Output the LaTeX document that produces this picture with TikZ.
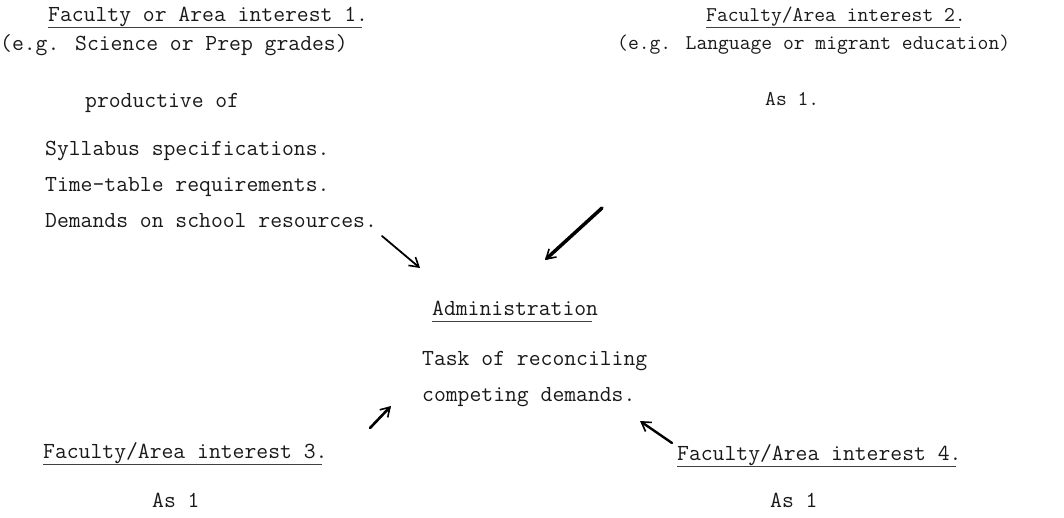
\documentclass[tikz,border=0pt]{standalone}
\usepackage{fontspec}
\usetikzlibrary{arrows.meta}
\begin{document}
\begin{tikzpicture}[x=1pt,y=-1pt,
  txt/.style={anchor=base west, inner sep=0pt, text=black!90, font=\ttfamily\fontsize{23}{23}\selectfont},
  txtr/.style={txt, font=\ttfamily\fontsize{21}{21}\selectfont},
  uline/.style={line width=0.8pt, black!75},
  harrow/.style={line width=#1, black, line cap=round, -{Straight Barb[length=9pt,width=11pt,line width=1.6pt]}},
  harrow/.default=2pt
]
\useasboundingbox (0,0) rectangle (1064,517);
% top left
\node[txt] (f1) at (48,21) {Faculty or Area interest 1.};
\node[txt] (eg1) at (0,50) {(e.g. Science or Prep grades)};
\node[txt] (prod) at (85,107) {productive of};
\node[txt] (syl) at (45,155) {Syllabus specifications.};
\node[txt] (tt) at (45,191) {Time-table requirements.};
\node[txt] (dem) at (45,227) {Demands on school resources.};
% top right
\node[txtr] (f2) at (706,21) {Faculty/Area interest 2.};
\node[txtr] (eg2) at (617,49) {(e.g. Language or migrant education)};
\node[txtr] (as2) at (765,105) {As 1.};
% centre
\node[txt] (adm) at (432,315) {Administration};
\node[txt] (task) at (422,365) {Task of reconciling};
\node[txt] (comp) at (422,401) {competing demands.};
% bottom
\node[txt] (f3) at (43,458) {Faculty/Area interest 3.};
\node[txt] (as3) at (152,507) {As 1};
\node[txt] (f4) at (677,460) {Faculty/Area interest 4.};
\node[txt] (as4) at (770,507) {As 1};
% underlines
\foreach \n in {f1,f2,adm,f3,f4}
  \draw[uline] ([yshift=-6pt]\n.base west) -- ([xshift=-6pt,yshift=-6pt]\n.base east);
% arrows
\coordinate (a1t) at (382,236); \coordinate (a1h) at (420,268);
\coordinate (a2t) at (602,208); \coordinate (a2h) at (545,260);
\coordinate (a3t) at (370,428); \coordinate (a3h) at (391,406);
\coordinate (a4t) at (672,443); \coordinate (a4h) at (640,421);
\draw[harrow=1.8pt] (a1t) -- (a1h);
\draw[harrow=3.5pt] (a2t) -- (a2h);
\draw[harrow=2.6pt] (a3t) -- (a3h);
\draw[harrow=2.4pt] (a4t) -- (a4h);
\end{tikzpicture}
\end{document}
